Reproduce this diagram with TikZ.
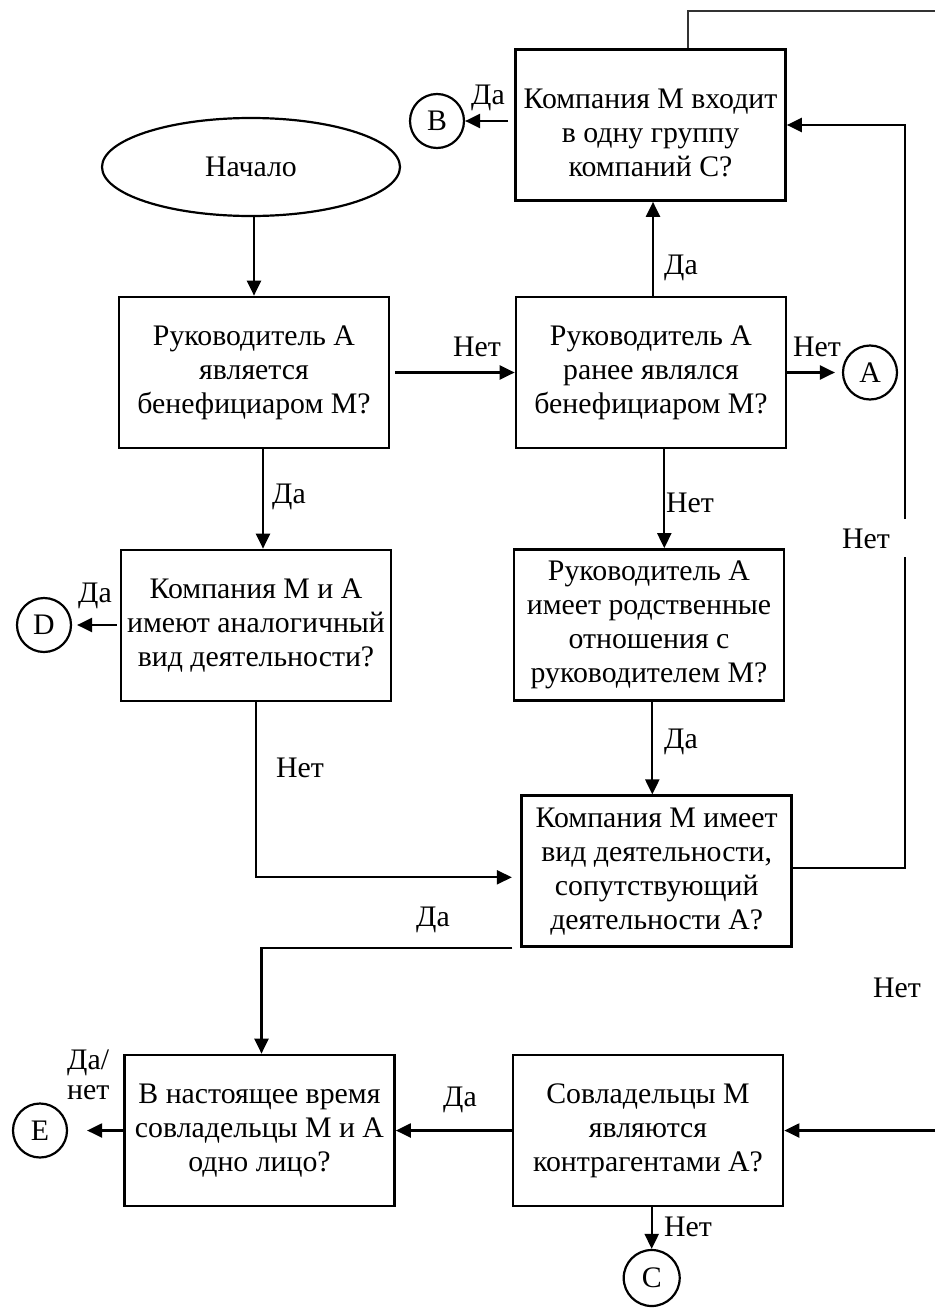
\documentclass[tikz,border=0pt]{standalone}
\usepackage{fontspec}
\setmainfont{Liberation Serif}
\usetikzlibrary{arrows.meta,shapes.geometric}
\begin{document}
\begin{tikzpicture}[x=1pt,y=-1pt,
  every node/.style={font=\fontsize{29.8}{34}\selectfont},
  box/.style={draw,line width=2.7pt,minimum width=270pt,minimum height=151pt,inner sep=0pt,align=center},
  term/.style={draw,ellipse,line width=2.2pt,minimum width=298pt,minimum height=98pt,inner sep=0pt},
  conn/.style={draw,circle,line width=2.2pt,minimum size=54pt,inner sep=0pt},
  arr/.style={line width=2.2pt,-{Triangle[length=15pt,width=14pt]}},
  ln/.style={line width=2.2pt},
  thinln/.style={line width=1.3pt,black!80},
  lbl/.style={inner sep=0pt}
]
\useasboundingbox (0,0) rectangle (935,1309);

% nodes
\node[term] (start) at (251,167) {Начало};
\node[box] (b0) at (650.5,125) {\rule{0pt}{35pt}Компания М входит\\в одну группу\\компаний С?};
\node[box] (b1) at (254,372.5) {Руководитель А\\является\\бенефициаром М?};
\node[box] (b2) at (651,372.5) {Руководитель А\\ранее являлся\\бенефициаром М?};
\node[box] (b3) at (256,625.5) {Компания М и А\\имеют аналогичный\\вид деятельности?};
\node[box] (b4) at (649,625) {Руководитель А\\имеет родственные\\отношения с\\руководителем М?};
\node[box] (b5) at (656.7,871.3) {Компания М имеет\\вид деятельности,\\сопутствующий\\деятельности А?};
\node[box] (b6) at (259.5,1130.5) {В настоящее время\\совладельцы М и А\\одно лицо?};
\node[box] (b7) at (648,1130.5) {Совладельцы М\\являются\\контрагентами А?};

\node[conn] (cB) at (437,121) {B};
\node[conn] (cA) at (870,372.5) {A};
\node[conn] (cD) at (44,625) {D};
\node[conn] (cE) at (40,1130.5) {E};
\node[conn,minimum size=56pt] (cC) at (651.7,1278) {C};

\coordinate (g1) at (905,557);
\coordinate (g2) at (905,519);
\coordinate (rin) at (935,1130.5);
\coordinate (topend) at (935,11);

% connectors
\draw[arr] (b1.north |- start.south) -- (b1.north);
\draw[arr,shorten <=5pt] (b1.east) -- (b2.west);
\draw[arr] ([xshift=2pt]b2.north) -- ([xshift=2pt]b2.north |- b0.south);
\draw[arr,shorten >=7pt] (b2.east) -- (cA.west);
\draw[arr,shorten <=6pt] (b0.west |- cB) -- (cB.east);
\draw[arr] ([xshift=9pt]b1.south) -- ([xshift=9pt]b1.south |- b3.north);
\draw[arr,shorten <=3pt,shorten >=5pt] (b3.west |- cD) -- (cD.east);
\draw[arr] ([xshift=13.3pt]b2.south) -- ([xshift=13.3pt]b2.south |- b4.north);
\draw[arr] ([xshift=3.3pt]b4.south) -- ([xshift=3.3pt]b4.south |- b5.north);
\draw[arr,shorten >=8.5pt] (b3.south) |- ([yshift=-6pt]b5.west);
\draw[ln] ([yshift=3pt]b5.east) -| (g1);
\draw[arr] (g2) |- (b0.east);
\draw[arr] ([xshift=-8pt]b5.south west) -| ([xshift=2pt]b6.north);
\draw[arr] (b7.west) -- (b6.east);
\draw[arr,shorten >=19pt] (b6.west) -- (cE.east);
\draw[arr] (rin) -- (b7.east);
\draw[arr] (b7.south -| cC) -- (cC.north);
\draw[thinln] ([xshift=37.5pt]b0.north) |- (topend);

% labels
\node[lbl] (lb1) at (477,347) {Нет};
\node[lbl] (lb2) at (681,268) {Да};
\node[lbl] (lb3) at (817,347) {Нет};
\node[lbl] (lb4) at (488,98) {Да};
\node[lbl] (lb5) at (289,497) {Да};
\node[lbl] (lb6) at (95,596) {Да};
\node[lbl] (lb7) at (690,503) {Нет};
\node[lbl] (lb8) at (681,742) {Да};
\node[lbl] (lb9) at (300,768) {Нет};
\node[lbl] (lb10) at (866,539) {Нет};
\node[lbl] (lb11) at (433,920) {Да};
\node[lbl] (lb12) at (460,1100) {Да};
\node[lbl,anchor=north west,align=left,font=\fontsize{29.8}{30}\selectfont] (lb13) at (67,1050) {Да/\\нет};
\node[lbl] (lb14) at (688,1227) {Нет};
\node[lbl] (lb15) at (897,988) {Нет};
\end{tikzpicture}
\end{document}
